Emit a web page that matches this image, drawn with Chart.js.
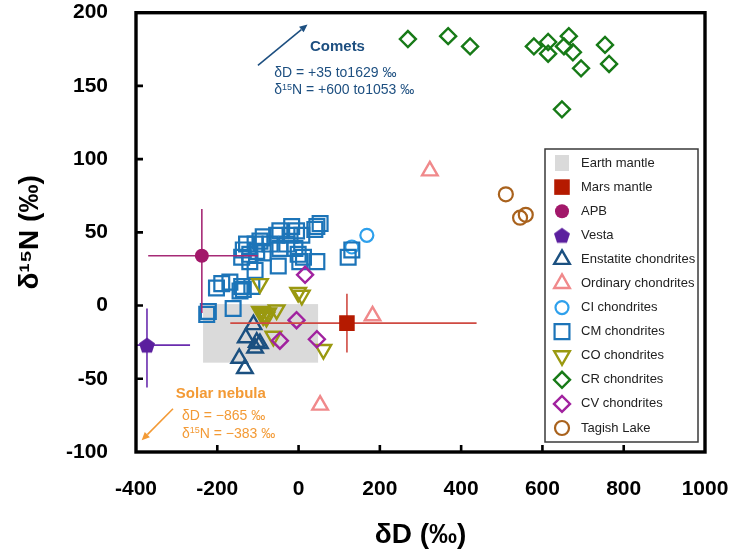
<!DOCTYPE html>
<html>
<head>
<meta charset="utf-8">
<script src="https://cdn.jsdelivr.net/npm/chart.js@4.4.1/dist/chart.umd.min.js"></script>
<style>
  html, body { margin: 0; padding: 0; background: #fff; }
  canvas { display: block; }
</style>
</head>
<body>
<canvas id="chart" width="733" height="556"></canvas>
<script>
// ---- Isotope data: δD (‰) and δ15N (‰) ----
const earthMantleD = [-235, 48];
const earthMantleN = [-39, 1];

const marsD = [119];
const marsN = [-12];
const marsErrD = [-168, 438];
const marsErrN = [-32, 8];

const apbD = [-238];
const apbN = [34];
const apbErrD = [-370, -100];
const apbErrN = [-5, 66];

const vestaD = [-373];
const vestaN = [-27];
const vestaErrD = [-420, -267];
const vestaErrN = [-56, -2];

const enstatiteD = [-111, -130, -103, -95, -107, -146, -132];
const enstatiteN = [-13, -22, -25, -26, -29, -36, -43];

const ordinaryD = [323, 182, 53];
const ordinaryN = [92, -7, -68];

const ciD = [168, 131];
const ciN = [48, 40];

const cmD = [53, 45, -17, -5, -21, 8, -54, -46, -87, -95, -107, -70, -128, -136, -140, -120, -103, -87,
             -46, -29, -9, -1, 12, 45, -50, -107, -120, 3, -202, -189, -169, -140, -136, -115, -144,
             -222, -226, -161, 122, 131, 40];
const cmN = [56, 54, 54, 51, 48, 48, 48, 51, 47, 44, 42, 42, 42, 38, 33, 35, 37, 36,
             39, 42, 39, 35, 33, 30, 27, 24, 30, 30, 12, 15, 16, 13, 11, 13, 10,
             -4, -6, -2, 33, 38, 52];

const coD = [-95, -1, 8, -91, -83, -79, -87, -95, -75, -54, -62, 61];
const coN = [15, 9, 7, -5, -6, -8, -7, -4, -5, -3, -21, -30];

const crD = [269, 368, 422, 579, 614, 614, 665, 653, 675, 695, 754, 764, 648];
const crN = [182, 184, 177, 177, 180, 172, 184, 177, 173, 162, 178, 165, 134];

const cvD = [16, -5, -46, 45];
const cvN = [21, -10, -24, -23];

const tagishD = [510, 545, 559];
const tagishN = [76, 60, 62];

const xTicks = [-400, -200, 0, 200, 400, 600, 800, 1000];
const yTicks = [-100, -50, 0, 50, 100, 150, 200];

// ---- styling ----
const FONT = '"Liberation Sans", Arial, Helvetica, sans-serif';
const pts = (xs, ys) => xs.map((x, i) => ({ x, y: ys[i] }));

// filled pentagon marker for Vesta
const pentagon = (() => {
  const c = document.createElement('canvas');
  c.width = 18; c.height = 18;
  const g = c.getContext('2d');
  g.fillStyle = '#5b1f9e';
  g.beginPath();
  for (let i = 0; i < 5; i++) {
    const a = -Math.PI / 2 + i * 2 * Math.PI / 5;
    const px = 9 + 8.4 * Math.cos(a), py = 9.8 + 8.4 * Math.sin(a);
    i ? g.lineTo(px, py) : g.moveTo(px, py);
  }
  g.closePath();
  g.fill();
  return c;
})();

function series(label, xs, ys, color, style, radius, opts = {}) {
  return Object.assign({
    label,
    data: pts(xs, ys),
    pointStyle: style,
    pointRadius: radius,
    pointHoverRadius: radius,
    borderColor: color,
    backgroundColor: 'rgba(0,0,0,0)',
    pointBorderWidth: 2.4,
    showLine: false
  }, opts);
}

// first entry is drawn on top
const datasets = [
  series('Mars mantle', marsD, marsN, '#b51a00', 'rect', 11, { backgroundColor: '#b51a00', pointBorderWidth: 0 }),
  series('APB', apbD, apbN, '#a2186a', 'circle', 7, { backgroundColor: '#a2186a', pointBorderWidth: 0 }),
  series('Vesta', vestaD, vestaN, '#5b1f9e', pentagon, 8),
  series('CV chondrites', cvD, cvN, '#a1229f', 'rectRot', 8),
  series('CO chondrites', coD, coN, '#9a9910', 'triangle', 9, { pointRotation: 180 }),
  series('CR chondrites', crD, crN, '#177a17', 'rectRot', 8),
  series('Enstatite chondrites', enstatiteD, enstatiteN, '#1b5080', 'triangle', 9),
  series('Ordinary chondrites', ordinaryD, ordinaryN, '#f0898b', 'triangle', 9),
  series('Tagish Lake', tagishD, tagishN, '#a9621d', 'circle', 7, { pointBorderWidth: 2.2 }),
  series('CM chondrites', cmD, cmN, '#1c74b8', 'rect', 10.5, { pointBorderWidth: 2.2 }),
  series('CI chondrites', ciD, ciN, '#2ea0ec', 'circle', 6.5, { pointBorderWidth: 2.2 })
];

const legendOrder = ['Earth mantle', 'Mars mantle', 'APB', 'Vesta', 'Enstatite chondrites',
  'Ordinary chondrites', 'CI chondrites', 'CM chondrites', 'CO chondrites', 'CR chondrites',
  'CV chondrites', 'Tagish Lake'];

const errorBars = {
  'APB': { d: apbD[0], n: apbN[0], rd: apbErrD, rn: apbErrN, color: '#a62a76' },
  'Mars mantle': { d: marsD[0], n: marsN[0], rd: marsErrD, rn: marsErrN, color: '#cf4a42' },
  'Vesta': { d: vestaD[0], n: vestaN[0], rd: vestaErrD, rn: vestaErrN, color: '#6a2cae' }
};

// text annotations anchored in data units
const notes = {
  comets: { color: '#1d4f80', title: 'Comets', titleAt: [28, 176.5], lineAt: [-60, 158.5], gap: 10.8,
            lines: [['δD = +35 to1629 ‰'], ['δ', '15', 'N = +600 to1053 ‰']],
            arrow: [[-100, 164], [22, 192]] },
  nebula: { color: '#f39a35', title: 'Solar nebula', titleAt: [-302, -60.5], lineAt: [-287, -75.3], gap: 11.5,
            lines: [['δD = −865 ‰'], ['δ', '15', 'N = −383 ‰']],
            arrow: [[-309, -70.5], [-386, -92]] }
};

// ---- plugins ----
const underlay = {
  id: 'underlay',
  beforeDatasetsDraw(chart) {
    const { ctx, scales: { x, y } } = chart;
    ctx.save();
    ctx.fillStyle = '#dadada';
    const x0 = x.getPixelForValue(earthMantleD[0]), x1 = x.getPixelForValue(earthMantleD[1]);
    const y0 = y.getPixelForValue(earthMantleN[1]), y1 = y.getPixelForValue(earthMantleN[0]);
    ctx.fillRect(x0, y0, x1 - x0, y1 - y0);
    ctx.restore();
  },
  beforeDatasetDraw(chart, args) {
    const ds = chart.data.datasets[args.index];
    const eb = errorBars[ds.label];
    if (!eb) return;
    const { ctx, chartArea: a, scales: { x, y } } = chart;
    ctx.save();
    ctx.beginPath();
    ctx.rect(a.left, a.top, a.right - a.left, a.bottom - a.top);
    ctx.clip();
    ctx.strokeStyle = eb.color;
    ctx.lineWidth = 1.6;
    ctx.beginPath();
    ctx.moveTo(x.getPixelForValue(eb.rd[0]), y.getPixelForValue(eb.n));
    ctx.lineTo(x.getPixelForValue(eb.rd[1]), y.getPixelForValue(eb.n));
    ctx.moveTo(x.getPixelForValue(eb.d), y.getPixelForValue(eb.rn[0]));
    ctx.lineTo(x.getPixelForValue(eb.d), y.getPixelForValue(eb.rn[1]));
    ctx.stroke();
    ctx.restore();
  }
};

function drawArrow(ctx, x0, y0, x1, y1, color) {
  ctx.strokeStyle = color;
  ctx.fillStyle = color;
  ctx.lineWidth = 1.6;
  const ang = Math.atan2(y1 - y0, x1 - x0);
  const hl = 8, hw = 3.6;
  const bx = x1 - hl * Math.cos(ang), by = y1 - hl * Math.sin(ang);
  ctx.beginPath();
  ctx.moveTo(x0, y0);
  ctx.lineTo(bx, by);
  ctx.stroke();
  ctx.beginPath();
  ctx.moveTo(x1, y1);
  ctx.lineTo(bx - hw * Math.sin(ang), by + hw * Math.cos(ang));
  ctx.lineTo(bx + hw * Math.sin(ang), by - hw * Math.cos(ang));
  ctx.closePath();
  ctx.fill();
}

function drawNote(ctx, x, y, n) {
  ctx.textBaseline = 'middle';
  ctx.textAlign = 'left';
  ctx.fillStyle = n.color;
  ctx.font = 'bold 15px ' + FONT;
  ctx.fillText(n.title, x.getPixelForValue(n.titleAt[0]), y.getPixelForValue(n.titleAt[1]));
  const lx = x.getPixelForValue(n.lineAt[0]);
  let ly = y.getPixelForValue(n.lineAt[1]);
  n.lines.forEach((parts) => {
    let cx = lx;
    parts.forEach((p, i) => {
      const sup = parts.length === 3 && i === 1;
      ctx.font = (sup ? '9px ' : '14px ') + FONT;
      ctx.fillText(p, cx, sup ? ly - 3 : ly);
      cx += ctx.measureText(p).width;
    });
    ly += n.gap * 1.55;
  });
  const [p0, p1] = n.arrow;
  drawArrow(ctx, x.getPixelForValue(p0[0]), y.getPixelForValue(p0[1]),
            x.getPixelForValue(p1[0]), y.getPixelForValue(p1[1]), n.color);
}

const overlay = {
  id: 'overlay',
  afterDraw(chart) {
    const { ctx, chartArea: a, scales: { x, y } } = chart;
    ctx.save();
    // frame
    ctx.strokeStyle = '#000';
    ctx.lineWidth = 3.4;
    ctx.strokeRect(a.left, a.top, a.right - a.left, a.bottom - a.top);
    // inward tick marks on left and bottom axes
    ctx.lineWidth = 2.6;
    ctx.beginPath();
    yTicks.slice(1, -1).forEach(v => {
      const py = y.getPixelForValue(v);
      ctx.moveTo(a.left, py); ctx.lineTo(a.left + 7, py);
    });
    xTicks.slice(1, -1).forEach(v => {
      const px = x.getPixelForValue(v);
      ctx.moveTo(px, a.bottom); ctx.lineTo(px, a.bottom - 7);
    });
    ctx.stroke();

    // annotations
    drawNote(ctx, x, y, notes.comets);
    drawNote(ctx, x, y, notes.nebula);

    // legend
    const box = { l: 545, t: 149, r: 698, b: 442 };
    ctx.fillStyle = '#fff';
    ctx.fillRect(box.l, box.t, box.r - box.l, box.b - box.t);
    ctx.strokeStyle = '#3a3a3a';
    ctx.lineWidth = 1.5;
    ctx.strokeRect(box.l, box.t, box.r - box.l, box.b - box.t);
    const step = (428 - 163) / (legendOrder.length - 1);
    legendOrder.forEach((name, i) => {
      const cy = 163 + i * step, mx = 562;
      if (name === 'Earth mantle') {
        ctx.fillStyle = '#dadada';
        ctx.fillRect(mx - 7, cy - 8, 14, 16);
      } else {
        const ds = chart.data.datasets.find(d => d.label === name);
        ctx.fillStyle = ds.backgroundColor;
        ctx.strokeStyle = ds.borderColor;
        ctx.lineWidth = ds.pointBorderWidth;
        Chart.helpers.drawPoint(ctx, {
          pointStyle: ds.pointStyle,
          radius: ds.pointRadius,
          rotation: ds.pointRotation || 0,
          borderWidth: ds.pointBorderWidth
        }, mx, cy);
      }
      ctx.fillStyle = '#222';
      ctx.font = '13px ' + FONT;
      ctx.textAlign = 'left';
      ctx.textBaseline = 'middle';
      ctx.fillText(name, 581, cy);
    });
    ctx.restore();
  }
};

new Chart(document.getElementById('chart'), {
  type: 'scatter',
  data: { datasets },
  options: {
    responsive: false,
    animation: false,
    devicePixelRatio: 1,
    layout: { padding: { top: 10, right: 28, left: 0, bottom: 0 } },
    plugins: { legend: { display: false }, tooltip: { enabled: false } },
    scales: {
      x: {
        type: 'linear', min: -400, max: 1000,
        afterBuildTicks: s => { s.ticks = xTicks.map(v => ({ value: v })); },
        afterFit: s => { s.height = 104; s.paddingLeft = 0; s.paddingRight = 0; },
        grid: { display: false, drawTicks: false },
        border: { display: false },
        ticks: { padding: 25, color: '#000', font: { family: FONT, size: 21, weight: 'bold' },
                 maxRotation: 0, callback: v => String(v) },
        title: { display: true, text: 'δD (‰)', color: '#000',
                 font: { family: FONT, size: 28, weight: 'bold' }, padding: { top: 0, bottom: 4 } }
      },
      y: {
        type: 'linear', min: -100, max: 200,
        afterBuildTicks: s => { s.ticks = yTicks.map(v => ({ value: v })); },
        afterFit: s => { s.width = 136; s.paddingTop = 0; s.paddingBottom = 0; },
        grid: { display: false, drawTicks: false },
        border: { display: false },
        ticks: { padding: 28, color: '#000', font: { family: FONT, size: 21, weight: 'bold' },
                 callback: v => String(v) },
        title: { display: true, text: 'δ¹⁵N (‰)', color: '#000',
                 font: { family: FONT, size: 28, weight: 'bold' }, padding: { top: 13, bottom: 0 } }
      }
    }
  },
  plugins: [underlay, overlay]
});
</script>
</body>
</html>
